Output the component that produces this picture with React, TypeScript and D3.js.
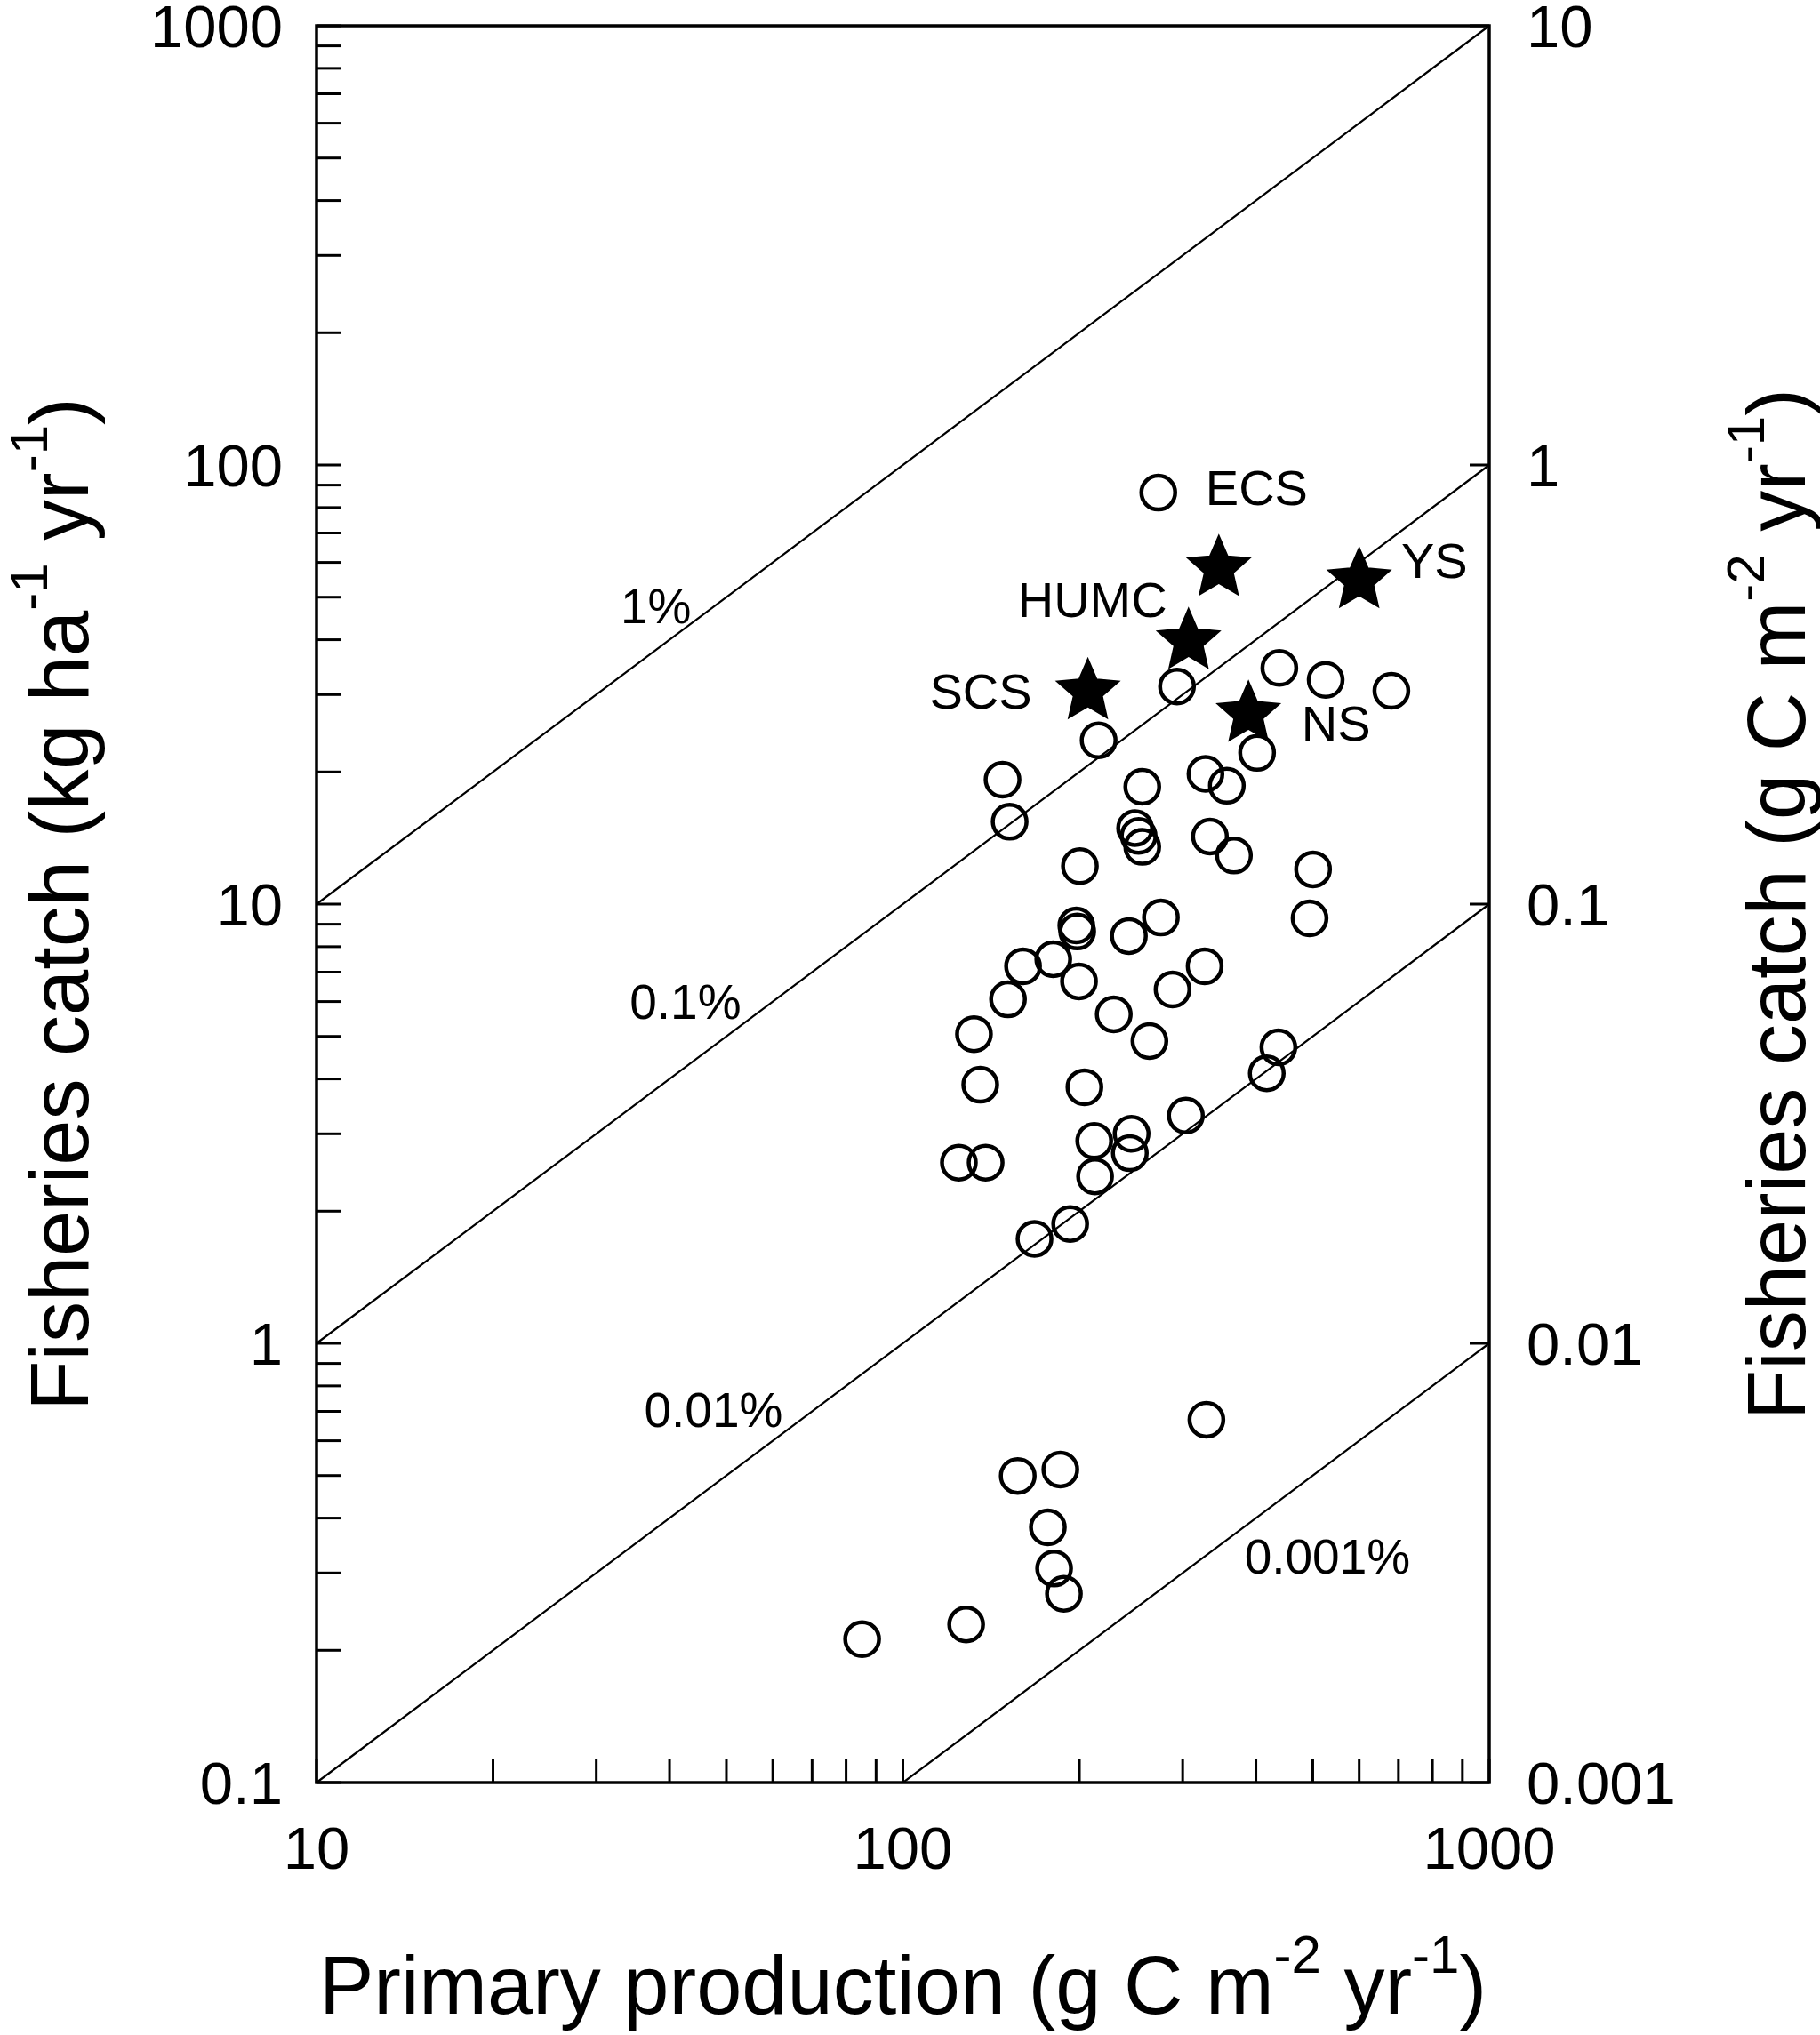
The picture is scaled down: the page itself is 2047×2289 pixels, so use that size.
import React from "react";
import * as d3 from "d3";

// ---------- data ----------
// Open circles: primary production (g C m-2 yr-1) vs fisheries catch (kg ha-1 yr-1)
const primaryProduction = [
  272.6, 293.4, 215.7, 147.9, 152.1, 256.0, 328.1, 356.8, 248.9, 252.4,
  256.0, 333.9, 366.9, 438.5, 526.0, 680.9, 401.8, 200.4, 500.6, 493.8,
  275.4, 197.6, 198.3, 242.9, 160.3, 180.5, 199.7, 151.1, 228.9, 288.3,
  327.0, 263.3, 132.2, 135.5, 204.0, 303.8, 212.0, 245.5, 243.8, 212.7,
  124.6, 138.4, 192.9, 167.7, 436.9, 417.4, 329.3, 157.0, 185.6, 176.7,
  181.1, 188.2, 128.2, 85.2,
];
const fisheriesCatch = [
  86.5, 31.3, 23.6, 19.2, 15.4, 18.5, 19.8, 18.6, 14.9, 14.3,
  13.5, 14.25, 12.9, 34.5, 32.4, 30.6, 22.1, 12.2, 12.0, 9.28,
  9.32, 8.94, 8.66, 8.46, 7.22, 7.49, 6.67, 6.07, 5.61, 6.39,
  7.22, 4.88, 5.06, 3.88, 3.83, 3.3, 2.89, 3.0, 2.71, 2.4,
  2.58, 2.58, 1.87, 1.73, 4.72, 4.12, 0.67, 0.499, 0.516, 0.381,
  0.307, 0.269, 0.229, 0.212,
];

// Highlighted seas (stars)
const seaNames = ["SCS", "HUMC", "ECS", "YS", "NS"];
const seaPP = [206.8, 307.0, 345.7, 600.0, 388.4];
const seaCatch = [30.5, 39.7, 58.2, 54.6, 27.1];
// label anchor (data coords, left/baseline of text)
const seaLabelPP = [111.0, 157.0, 328.1, 707.6, 478.4];
const seaLabelCatch = [27.9, 45.1, 81.1, 55.3, 23.6];

// Transfer-efficiency reference lines
const efficiencyLabels = ["1%", "0.1%", "0.01%", "0.001%"];
const efficiencyFractions = [0.01, 0.001, 0.0001, 0.00001];
const efficiencyLabelPP = [33.0, 34.2, 36.2, 382.4];
const efficiencyLabelCatch = [43.6, 5.48, 0.645, 0.299];

const xTickLabels = ["10", "100", "1000"];
const yLeftTickLabels = ["0.1", "1", "10", "100", "1000"];
const yRightTickLabels = ["0.001", "0.01", "0.1", "1", "10"];

// ---------- layout ----------
const W = 2047;
const H = 2289;
const L = 356;
const R = 1675;
const T = 29;
const B = 2005;
const FONT = "'Liberation Sans', Arial, Helvetica, sans-serif";

function starPath(cx: number, cy: number, ro: number, ri: number) {
  const pts: [number, number][] = [];
  for (let i = 0; i < 10; i++) {
    const r = i % 2 === 0 ? ro : ri;
    const a = -Math.PI / 2 + (i * Math.PI) / 5;
    pts.push([cx + r * Math.cos(a), cy + r * Math.sin(a)]);
  }
  return d3.line()(pts) + "Z";
}

export default function App() {
  const x = d3.scaleLog().domain([10, 1000]).range([L, R]);
  const y = d3.scaleLog().domain([0.1, 1000]).range([B, T]);
  const yR = d3.scaleLog().domain([0.001, 10]).range([B, T]);

  const xTicks = x.ticks();
  const yTicks = y.ticks();
  const yRMajor = yRightTickLabels.map(Number);

  const tickLen = 27;
  const rTickLen = 22;

  const lines = efficiencyFractions.map((f) => {
    const k = f * 100; // catch (kg/ha) = k * PP
    const x0 = Math.max(10, 0.1 / k);
    const x1 = Math.min(1000, 1000 / k);
    return { x0, y0: k * x0, x1, y1: k * x1 };
  });

  const tickFs = 67;
  const titleFs = 92;
  const supFs = 60;
  const supRaise = 46;

  return (
    <svg
      width={W}
      height={H}
      style={{ position: "absolute", left: 0, top: 0, background: "#fff" }}
      fontFamily={FONT}
    >
      <rect x={0} y={0} width={W} height={H} fill="#fff" />

      {/* reference lines */}
      {lines.map((l, i) => (
        <line
          key={"ln" + i}
          x1={x(l.x0)}
          y1={y(l.y0)}
          x2={x(l.x1)}
          y2={y(l.y1)}
          stroke="#000"
          strokeWidth={2.2}
        />
      ))}
      {efficiencyLabels.map((t, i) => (
        <text
          key={"el" + i}
          x={x(efficiencyLabelPP[i])}
          y={y(efficiencyLabelCatch[i])}
          fontSize={55}
          fill="#000"
        >
          {t}
        </text>
      ))}

      {/* circles */}
      {primaryProduction.map((p, i) => (
        <circle
          key={"c" + i}
          cx={x(p)}
          cy={y(fisheriesCatch[i])}
          r={19}
          fill="none"
          stroke="#000"
          strokeWidth={4.5}
        />
      ))}

      {/* stars */}
      {seaPP.map((p, i) => (
        <g key={"s" + i}>
          <circle cx={x(p)} cy={y(seaCatch[i])} r={15} fill="none" stroke="#000" strokeWidth={4} />
          <path d={starPath(x(p), y(seaCatch[i]), 37, 17)} fill="#000" stroke="#000" strokeWidth={1.5} />
        </g>
      ))}
      {seaNames.map((n, i) => (
        <text
          key={"sl" + i}
          x={x(seaLabelPP[i])}
          y={y(seaLabelCatch[i])}
          fontSize={56}
          fill="#000"
        >
          {n}
        </text>
      ))}

      {/* frame */}
      <rect x={L} y={T} width={R - L} height={B - T} fill="none" stroke="#000" strokeWidth={3.5} />

      {/* bottom ticks */}
      {xTicks.map((v, i) => (
        <line key={"xt" + i} x1={x(v)} x2={x(v)} y1={B} y2={B - tickLen} stroke="#000" strokeWidth={3} />
      ))}
      {xTickLabels.map((t, i) => (
        <text key={"xl" + i} x={x(+t)} y={2102} fontSize={tickFs} textAnchor="middle" fill="#000">
          {t}
        </text>
      ))}

      {/* left ticks */}
      {yTicks.map((v, i) => (
        <line key={"yt" + i} x1={L} x2={L + tickLen} y1={y(v)} y2={y(v)} stroke="#000" strokeWidth={3} />
      ))}
      {yLeftTickLabels.map((t, i) => (
        <text
          key={"yl" + i}
          x={L - 38}
          y={y(+t) + 24}
          fontSize={tickFs}
          textAnchor="end"
          fill="#000"
        >
          {t}
        </text>
      ))}

      {/* right ticks */}
      {yRMajor.map((v, i) => (
        <line key={"yrt" + i} x1={R} x2={R - rTickLen} y1={yR(v)} y2={yR(v)} stroke="#000" strokeWidth={3} />
      ))}
      {yRightTickLabels.map((t, i) => (
        <text key={"yrl" + i} x={R + 42} y={yR(+t) + 24} fontSize={tickFs} textAnchor="start" fill="#000">
          {t}
        </text>
      ))}

      {/* x title */}
      <text x={(L + R) / 2} y={2265} fontSize={titleFs} textAnchor="middle" fill="#000">
        <tspan>Primary production (g C m</tspan>
        <tspan fontSize={supFs} dy={-supRaise}>-2</tspan>
        <tspan dy={supRaise}> yr</tspan>
        <tspan fontSize={supFs} dy={-supRaise}>-1</tspan>
        <tspan dy={supRaise}>)</tspan>
      </text>

      {/* left y title */}
      <text
        transform={`translate(99, ${(T + B) / 2}) rotate(-90)`}
        fontSize={titleFs}
        textAnchor="middle"
        fill="#000"
      >
        <tspan>Fisheries catch (kg ha</tspan>
        <tspan fontSize={supFs} dy={-supRaise}>-1</tspan>
        <tspan dy={supRaise}> yr</tspan>
        <tspan fontSize={supFs} dy={-supRaise}>-1</tspan>
        <tspan dy={supRaise}>)</tspan>
      </text>

      {/* right y title */}
      <text
        transform={`translate(2030, ${(T + B) / 2}) rotate(-90)`}
        fontSize={titleFs}
        textAnchor="middle"
        fill="#000"
      >
        <tspan>Fisheries catch (g C m</tspan>
        <tspan fontSize={supFs} dy={-supRaise}>-2</tspan>
        <tspan dy={supRaise}> yr</tspan>
        <tspan fontSize={supFs} dy={-supRaise}>-1</tspan>
        <tspan dy={supRaise}>)</tspan>
      </text>
    </svg>
  );
}
